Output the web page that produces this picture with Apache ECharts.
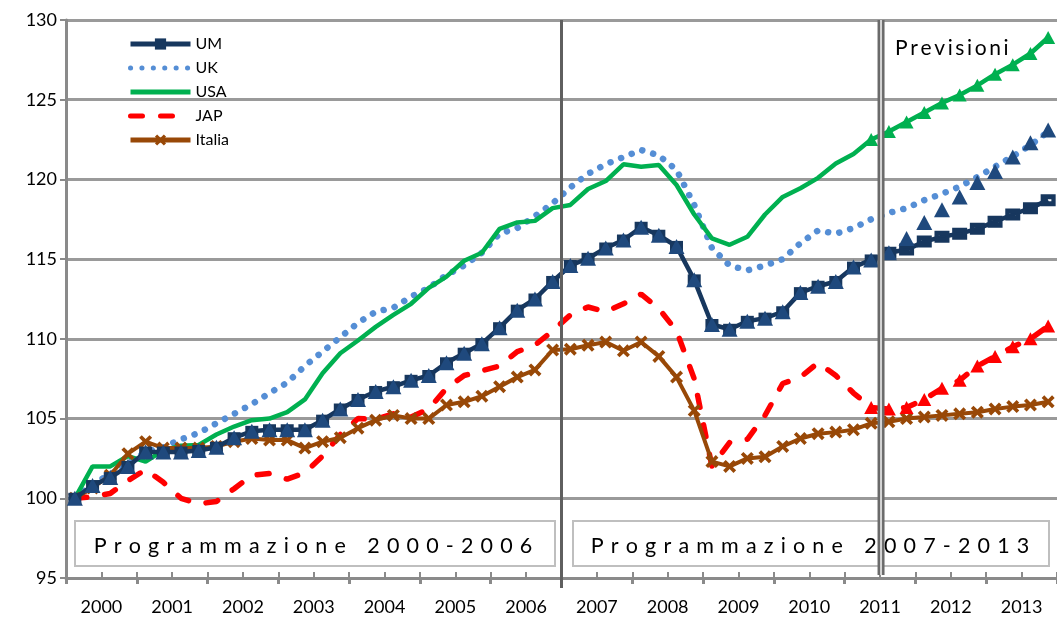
<!DOCTYPE html>
<html>
<head>
<meta charset="utf-8">
<script src="https://cdn.jsdelivr.net/npm/echarts@6/dist/echarts.min.js"></script>
<style>
html,body{margin:0;padding:0;background:#fff;}
#main{width:1057px;height:617px;}
</style>
</head>
<body>
<div id="main"></div>
<script>
// ---- data ----
const years = ['2000','2001','2002','2003','2004','2005','2006','2007','2008','2009','2010','2011','2012','2013'];
const quarterNames = ['I','II','III','IV'];
const yTicks = [95, 100, 105, 110, 115, 120, 125, 130];

const UM = [100.0,100.8,101.3,102.0,102.9,102.9,102.9,103.0,103.2,103.8,
            104.2,104.3,104.3,104.3,104.9,105.6,106.2,106.7,107.0,107.4,
            107.7,108.5,109.1,109.7,110.7,111.8,112.5,113.6,114.6,115.05,
            115.7,116.2,117.0,116.5,115.8,113.7,110.9,110.6,111.1,111.3,
            111.7,112.9,113.3,113.6,114.5,114.95,115.4,115.6,116.1,116.4,
            116.6,116.9,117.35,117.8,118.2,118.7];
const UM_triangles = [100.0,100.8,101.3,102.0,102.9,102.9,102.9,103.0,103.2,103.8,
            104.2,104.3,104.3,104.3,104.9,105.6,106.2,106.7,107.0,107.4,
            107.7,108.5,109.1,109.7,110.7,111.8,112.5,113.6,114.6,115.05,
            115.7,116.2,117.0,116.5,115.8,113.7,110.9,110.6,111.1,111.3,
            111.7,112.9,113.3,113.6,114.5,114.95,115.4,116.3,117.3,118.1,
            118.9,119.8,120.5,121.4,122.3,123.1];
const UK = [100.0,100.9,101.5,102.2,102.9,103.2,103.7,104.1,104.7,105.3,
            105.9,106.6,107.25,108.3,109.2,110.1,111.0,111.7,111.95,112.65,
            113.2,114.0,114.6,115.4,116.6,116.95,117.7,118.5,119.5,120.35,
            120.95,121.4,121.85,121.5,120.6,118.4,115.7,114.6,114.3,114.6,
            115.0,116.0,116.8,116.6,116.95,117.5,117.9,118.2,118.7,119.1,
            119.55,120.15,120.8,121.45,122.15,123.0];
const USA = [100.0,102.0,102.0,102.65,102.3,103.0,103.3,103.35,104.0,104.5,
             104.9,105.0,105.4,106.2,107.85,109.1,109.9,110.75,111.5,112.2,
             113.2,113.9,114.9,115.4,116.9,117.3,117.4,118.2,118.4,119.4,
             119.9,120.95,120.8,120.9,119.65,117.8,116.3,115.9,116.4,117.8,
             118.9,119.45,120.1,121.0,121.6,122.5,123.0,123.6,124.2,124.8,
             125.3,125.9,126.6,127.2,127.9,128.9];
const JAP = [100.0,100.1,100.3,101.1,101.8,101.0,100.0,99.65,99.8,100.6,
             101.45,101.55,101.2,101.6,102.65,104.0,105.0,104.95,105.3,105.1,
             105.6,106.9,107.7,108.0,108.3,109.2,109.6,110.5,111.5,112.0,
             111.7,112.2,112.8,111.9,110.5,107.5,102.0,103.5,103.7,105.2,
             107.2,107.6,108.5,107.7,106.6,105.7,105.6,105.7,106.2,106.9,
             107.4,108.3,108.9,109.5,110.0,110.8];
const Italia = [100.0,100.65,101.45,102.8,103.55,103.15,103.15,103.15,103.25,103.55,
                103.75,103.65,103.65,103.15,103.55,103.8,104.4,104.9,105.2,105.0,
                105.0,105.85,106.05,106.4,107.0,107.6,108.05,109.3,109.35,109.6,
                109.8,109.25,109.8,108.9,107.6,105.5,102.3,102.0,102.5,102.6,
                103.25,103.75,104.05,104.15,104.3,104.7,104.8,105.0,105.1,105.2,
                105.3,105.4,105.6,105.75,105.85,106.05];
// index of first forecast quarter (2011 III) and of first triangle-marked quarter
const forecastStart = 46;
const triangleStart = 45;
const SP = '\u2004';
const period1 = ['Programmazione', '2000-2006'];
const period2 = ['Programmazione', '2007-2013'];
const forecastLabel = 'Previsioni';

// ---- build ----
const quarters = [];
years.forEach(y => quarterNames.forEach(q => quarters.push(y + ' ' + q)));
const spaced = (words, sp) => words.map(w => w.split('').join(sp)).join(sp + sp + sp);
const FONT = 'Lato';
const navy = '#17375E';
const triBlue = '#1F497D';
const slitSquare = 'path://M0,0 H14 V11 H0 Z M4,4.6 V6.4 H10 V4.6 Z';

const umData = UM.map((v, i) => i >= forecastStart
  ? {value: v, symbol: slitSquare, symbolSize: [15, 12]}
  : v);
const tail = (arr) => arr.map((v, i) => i >= triangleStart ? v : null);
const xMark = 'path://M0,2 L2,0 L5,3 L8,0 L10,2 L7,5 L10,8 L8,10 L5,7 L2,10 L0,8 L3,5 Z';

const chart = echarts.init(document.getElementById('main'), null, {renderer: 'canvas'});
const gridCol = '#9a9a9a';
const axisCol = '#8a8a8a';
const hideMark = {opacity: 0};

chart.setOption({
  animation: false,
  backgroundColor: '#ffffff',
  textStyle: {fontFamily: FONT},
  grid: {left: 66, top: 20, width: 997, height: 558, containLabel: false},
  legend: {
    data: [
      {name: 'UM'},
      {name: 'UK', itemStyle: hideMark},
      {name: 'USA', itemStyle: hideMark},
      {name: 'JAP', itemStyle: hideMark},
      {name: 'Italia'}
    ],
    orient: 'vertical', left: 123, top: 31,
    itemWidth: 60, itemHeight: 14, itemGap: 8,
    lineStyle: {width: 5},
    textStyle: {fontSize: 16, color: '#000', fontFamily: FONT},
    selectedMode: false
  },
  xAxis: [
    {
      type: 'category', data: quarters, boundaryGap: true,
      axisLine: {show: true, lineStyle: {color: axisCol, width: 3}},
      axisTick: {show: true, inside: true, length: 6, interval: (i) => i % 2 === 0,
                 lineStyle: {color: axisCol, width: 2}},
      axisLabel: {show: false}, splitLine: {show: false}
    },
    {
      type: 'category', data: years, position: 'bottom', boundaryGap: true,
      axisLine: {show: false},
      axisTick: {show: true, length: 6, interval: 0, lineStyle: {color: axisCol, width: 3}},
      axisLabel: {fontSize: 18, color: '#000', margin: 20, fontFamily: FONT, interval: 0},
      splitLine: {show: false}
    }
  ],
  yAxis: {
    type: 'value', min: yTicks[0], max: yTicks[yTicks.length - 1], interval: yTicks[1] - yTicks[0],
    axisLine: {show: true, lineStyle: {color: axisCol, width: 3}},
    axisTick: {show: true, length: 6, lineStyle: {color: axisCol, width: 2}},
    axisLabel: {fontSize: 18, color: '#000', margin: 9, fontFamily: FONT},
    splitLine: {show: true, lineStyle: {color: gridCol, width: 3}}
  },
  series: [
    {name: 'UK', type: 'line', data: UK, symbol: 'circle', showSymbol: false, z: 2,
     itemStyle: {color: '#558ED5'},
     lineStyle: {color: '#558ED5', width: 6.5, type: [0.1, 11.3], cap: 'round'}},
    {name: 'USA', type: 'line', data: USA, symbol: 'circle', showSymbol: false, z: 3,
     itemStyle: {color: '#00B050'},
     lineStyle: {color: '#00B050', width: 4.5}},
    {name: 'JAP', type: 'line', data: JAP, symbol: 'circle', showSymbol: false, z: 4,
     itemStyle: {color: '#FF0000'},
     lineStyle: {color: '#FF0000', width: 5.5, type: [12, 18], cap: 'round'}},
    {name: 'Italia', type: 'line', data: Italia, symbol: xMark, symbolSize: 13, showAllSymbol: true, z: 5,
     itemStyle: {color: '#984807'},
     lineStyle: {color: '#984807', width: 4}},
    {name: 'UM', type: 'line', data: umData, symbol: 'rect', symbolSize: [13, 11], showAllSymbol: true, z: 6,
     itemStyle: {color: navy},
     lineStyle: {color: navy, width: 4.5}},
    {name: 'UM triangoli', type: 'line', data: UM_triangles, symbol: 'triangle', symbolSize: [16, 15], showAllSymbol: true, z: 7,
     itemStyle: {color: triBlue}, lineStyle: {width: 0, opacity: 0}},
    {name: 'USA triangoli', type: 'line', data: tail(USA), symbol: 'triangle', symbolSize: [14, 13], showAllSymbol: true, z: 7,
     itemStyle: {color: '#00B050'}, lineStyle: {width: 0, opacity: 0}},
    {name: 'JAP triangoli', type: 'line', data: tail(JAP), symbol: 'triangle', symbolSize: [14, 13], showAllSymbol: true, z: 7,
     itemStyle: {color: '#FF0000'}, lineStyle: {width: 0, opacity: 0}}
  ]
});

// ---- annotations positioned through the axes ----
const px = (i) => chart.convertToPixel({xAxisIndex: 0}, i);
const py = (v) => chart.convertToPixel({yAxisIndex: 0}, v);
const yTop = py(yTicks[yTicks.length - 1]);
const yBot = py(yTicks[0]);
const b1 = (px(27) + px(28)) / 2;
const b2 = (px(forecastStart - 1) + px(forecastStart)) / 2 + 1;

chart.setOption({
  graphic: [
    {type: 'rect', shape: {x: 75, y: 521, width: 480, height: 45}, z: 20,
     style: {fill: '#fff', stroke: '#BFBFBF', lineWidth: 2}},
    {type: 'rect', shape: {x: 573, y: 521, width: 476, height: 45}, z: 20,
     style: {fill: '#fff', stroke: '#BFBFBF', lineWidth: 2}},
    {type: 'text', x: 313, y: 546, z: 21,
     style: {text: spaced(period1, SP), fill: '#000', font: '21.5px ' + FONT, align: 'center', verticalAlign: 'middle'}},
    {type: 'text', x: 810, y: 546, z: 21,
     style: {text: spaced(period2, SP), fill: '#000', font: '21.5px ' + FONT, align: 'center', verticalAlign: 'middle'}},
    {type: 'line', shape: {x1: b1, y1: yTop, x2: b1, y2: yBot + 10}, z: 25,
     style: {stroke: '#5f5f5f', lineWidth: 3}},
    {type: 'line', shape: {x1: b2, y1: yTop, x2: b2, y2: yBot - 3}, z: 25,
     style: {stroke: '#6a6a6a', lineWidth: 7}},
    {type: 'line', shape: {x1: b2, y1: yTop, x2: b2, y2: yBot - 3}, z: 26,
     style: {stroke: '#d4d4d4', lineWidth: 2}},
    {type: 'text', x: 895, y: 48, z: 21,
     style: {text: forecastLabel.split('').join('\u2009'), fill: '#000', font: '21px ' + FONT, align: 'left', verticalAlign: 'middle'}}
  ]
});
</script>
</body>
</html>
